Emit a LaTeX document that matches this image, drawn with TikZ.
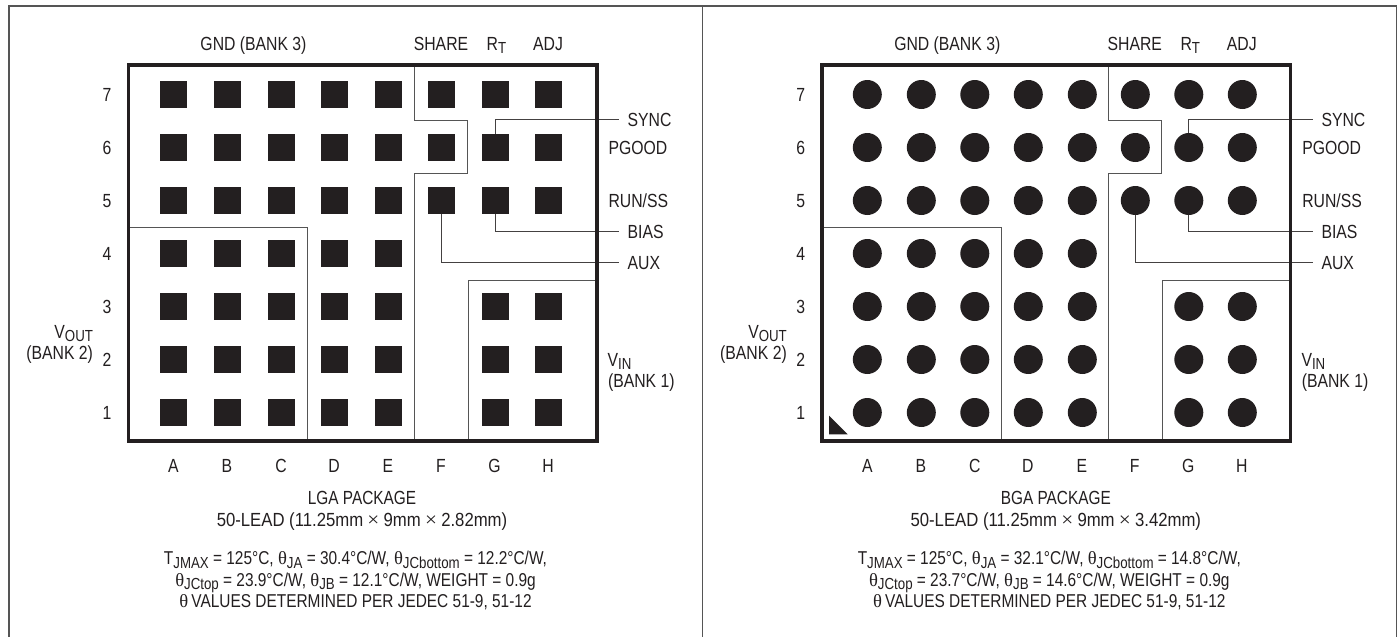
\documentclass[tikz,border=0pt]{standalone}
\usepackage{fontspec}
\usepackage{graphicx}
\setmainfont[FakeStretch=0.83]{Liberation Sans}
\newfontfamily\grk{Liberation Serif}
\definecolor{ink}{HTML}{231F20}
\definecolor{rulegrey}{HTML}{555555}
\newcommand\lowtxt[1]{\raisebox{-3.6pt}{\fontsize{16}{16}\selectfont #1}}
\newcommand\thetasym{{\grk θ}}
\newcommand\timessym{{\hspace{4pt}\grk\fontsize{20}{20}\selectfont ×\hspace{4pt}}}
\tikzset{
  lab/.style={inner sep=0pt,outer sep=0pt,anchor=base,text=ink,font=\fontsize{19}{21}\selectfont},
  labl/.style={lab,anchor=base west},
  labr/.style={lab,anchor=base east},
  thermal/.style={lab,font=\fontsize{18.6}{21}\selectfont},
  thin rule/.style={draw=rulegrey,line width=1pt},
  lead/.style={draw=ink!85!white,line width=1pt},
  heavy/.style={draw=ink,line width=3.8pt,line join=miter},
  frame/.style={draw=rulegrey,line width=1.4pt},
  square pad/.style={draw=none,fill=ink,inner sep=0pt,outer sep=0pt,minimum width=27pt,minimum height=27pt,rectangle},
  round pad/.style={draw=none,fill=ink,inner sep=0pt,outer sep=0pt,minimum size=29pt,circle}
}
\newcommand\panel[7]{%
  \begin{scope}[xshift=#1pt,name prefix=#2-]
    \foreach \c/\x in {A/173.5,B/227.5,C/281,D/334.5,E/388.5}
      \foreach \r/\y in {7/94.5,6/147.5,5/200.5,4/253.5,3/306.5,2/359.5,1/412.5}
        \node[padshape] (\c\r) at (\x,\y) {};
    \foreach \r/\y in {7/94.5,6/147.5,5/200.5}
      \node[padshape] (F\r) at (441.5,\y) {};
    \foreach \c/\x in {G/495,H/548.5}
      \foreach \r/\y in {7/94.5,6/147.5,5/200.5,3/306.5,2/359.5,1/412.5}
        \node[padshape] (\c\r) at (\x,\y) {};
    \draw[thin rule] (129,227) -| (307.7,440);
    \draw[thin rule] (414.7,65) |- (467.7,120.7) |- (414.7,173.3) -- (414.7,440);
    \draw[thin rule] (468.3,440) |- (595,280);
    \node[lab] (gnd) at (253.5,50) {GND (BANK 3)};
    \node[lab] (share) at (441,50) {SHARE};
    \node[labl] (rt) at (486.7,50) {R\lowtxt{T}};
    \node[lab] (adj) at (548,50) {ADJ};
    \foreach \r/\y in {7/94.5,6/147.5,5/200.5,4/253.5,3/306.5,2/359.5,1/412.5}
      \node[lab] (row\r) at (107,\y+7) {\r};
    \foreach \c/\x in {A/173.5,B/227,C/281,D/334,E/388,F/441,G/494.5,H/548}
      \node[lab] (col\c) at (\x,472.5) {\c};
    \node[labl] (sync) at (627.7,126.5) {SYNC};
    \node[labl] (pgood) at (608.5,154) {PGOOD};
    \node[labl] (runss) at (608.5,207) {RUN/SS};
    \node[labl] (bias) at (627.7,238.5) {BIAS};
    \node[labl] (aux) at (627.7,269.5) {AUX};
    \node[labr] (vout) at (93,338) {V\lowtxt{OUT}};
    \node[labr] (bank2) at (93,359) {(BANK 2)};
    \node[labl] (vin) at (607.7,366) {V\lowtxt{IN}};
    \node[labl] (bank1) at (608,387) {(BANK 1)};
    \node[lab] (title) at (362,504.5) {\scalebox{0.975}[1]{#3 PACKAGE}};
    \node[lab] (dims) at (362,526.5) {\scalebox{1.06}[1]{50-LEAD (11.25mm\timessym 9mm\timessym #4mm)}};
    \node[thermal] (th1) at (355.5,564.5) {T\lowtxt{JMAX} = 125°C, \thetasym\lowtxt{JA} = #5°C/W, \thetasym\lowtxt{JCbottom} = #6°C/W,};
    \node[thermal] (th2) at (355.5,586) {\thetasym\lowtxt{JCtop} = #7};
    \node[thermal] (th3) at (355.5,607.5) {\thetasym\,VALUES DETERMINED PER JEDEC 51-9, 51-12};
    \coordinate (syncend) at (619.3,119.7);
    \coordinate (biasend) at (619.3,231.3);
    \coordinate (auxend) at (619.3,262.3);
    \draw[lead] (G6.north) |- (syncend);
    \draw[lead] (G5.south) |- (biasend);
    \draw[lead] (F5.south) |- (auxend);
    \draw[heavy] (128.5,65) rectangle (596.7,440.7);
  \end{scope}%
}
\begin{document}
\begin{tikzpicture}[x=1pt,y=-1pt]
  \useasboundingbox (0,0) rectangle (1400,637);
  \fill[white] (0,0) rectangle (1400,637);
  \draw[frame] (9,637) |- (1396.5,6) -- (1396.5,637);
  \draw[frame] (702.7,6) -- (702.7,637);
  \tikzset{padshape/.style={square pad}}
  \panel{0}{L}{LGA}{2.82}{30.4}{12.2}{23.9°C/W, \thetasym\lowtxt{JB} = 12.1°C/W, WEIGHT = 0.9g}
  \tikzset{padshape/.style={round pad}}
  \panel{693.8}{R}{BGA}{3.42}{32.1}{14.8}{23.7°C/W, \thetasym\lowtxt{JB} = 14.6°C/W, WEIGHT = 0.9g}
  \fill[ink] (829,415.7) -- (829,434.3) -- (847.7,434.3) -- cycle;
\end{tikzpicture}
\end{document}
